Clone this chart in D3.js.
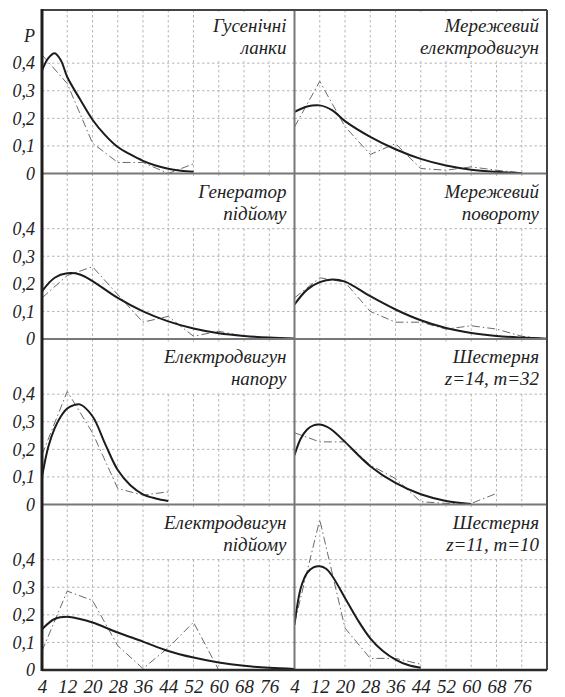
<!DOCTYPE html>
<html>
<head>
<meta charset="utf-8">
<script src="https://cdn.jsdelivr.net/npm/d3@7"></script>
<style>
  html, body { margin: 0; padding: 0; background: #fff; }
  svg { display: block; }
</style>
</head>
<body>
<div id="chart"></div>
<script>
// x ticks, shared by both columns
const xTicks = [4, 12, 20, 28, 36, 44, 52, 60, 68, 76];
const yTicks = [0, 0.1, 0.2, 0.3, 0.4];
const yTickLabels = ['0', '0,1', '0,2', '0,3', '0,4'];

// panel titles (two lines each), row by row, left then right
const titles = [
  ['Гусенічні', 'ланки'],
  ['Мережевий', 'електродвигун'],
  ['Генератор', 'підйому'],
  ['Мережевий', 'повороту'],
  ['Електродвигун', 'напору'],
  ['Шестерня', 'z=14, m=32'],
  ['Електродвигун', 'підйому'],
  ['Шестерня', 'z=11, m=10']
];

// empirical frequencies (dash-dot), x = 4, 12, 20, ...
const empX = [4, 12, 20, 28, 36, 44, 52, 60, 68, 76, 84];
const empirical = [
  [0.43, 0.326, 0.11, 0.04, 0.04, 0.0, 0.035],
  [0.169, 0.334, 0.17, 0.069, 0.108, 0.018, 0.012, 0.024, 0.012, 0.002],
  [0.149, 0.23, 0.262, 0.161, 0.061, 0.082, 0.01, 0.028, 0.01, 0.003, 0.0],
  [0.149, 0.222, 0.206, 0.1, 0.061, 0.061, 0.036, 0.048, 0.036, 0.01, 0.0],
  [0.18, 0.41, 0.26, 0.058, 0.034, 0.046],
  [0.26, 0.227, 0.227, 0.143, 0.094, 0.01, 0.004, 0.004, 0.04],
  [0.069, 0.286, 0.252, 0.088, 0.005, 0.081, 0.173, 0.0],
  [0.17, 0.545, 0.152, 0.042, 0.042, 0.021]
];

// fitted density curves (solid)
const fitX = [
  [4, 6, 8, 10, 12, 16, 20, 24, 28, 32, 36, 40, 44, 48, 52],
  [4, 8, 12, 16, 20, 28, 36, 44, 52, 60, 68, 76],
  [4, 8, 12, 16, 20, 28, 36, 44, 52, 60, 68, 76, 84],
  [4, 8, 12, 16, 20, 28, 36, 44, 52, 60, 68, 76, 84],
  [4, 6, 8, 10, 12, 14, 16, 20, 24, 28, 32, 36, 40, 44],
  [4, 6, 8, 10, 12, 14, 16, 20, 28, 36, 44, 52, 60],
  [4, 8, 12, 16, 20, 28, 36, 44, 52, 60, 68, 76, 84],
  [4, 6, 8, 10, 12, 14, 16, 20, 24, 28, 32, 36, 40, 44]
];
const fitted = [
  [0.373, 0.418, 0.436, 0.41, 0.35, 0.27, 0.195, 0.139, 0.096, 0.069, 0.046, 0.029, 0.017, 0.01, 0.006],
  [0.223, 0.243, 0.247, 0.229, 0.19, 0.133, 0.088, 0.053, 0.029, 0.014, 0.006, 0.001],
  [0.173, 0.222, 0.238, 0.234, 0.21, 0.149, 0.1, 0.064, 0.038, 0.021, 0.011, 0.005, 0.002],
  [0.125, 0.179, 0.206, 0.216, 0.208, 0.155, 0.107, 0.068, 0.04, 0.022, 0.011, 0.005, 0.001],
  [0.1, 0.209, 0.276, 0.32, 0.348, 0.36, 0.363, 0.32, 0.22, 0.125, 0.07, 0.037, 0.022, 0.013],
  [0.179, 0.239, 0.272, 0.287, 0.29, 0.283, 0.269, 0.227, 0.139, 0.078, 0.037, 0.013, 0.002],
  [0.148, 0.185, 0.193, 0.185, 0.172, 0.136, 0.103, 0.069, 0.045, 0.027, 0.015, 0.008, 0.004],
  [0.164, 0.297, 0.352, 0.372, 0.376, 0.367, 0.34, 0.261, 0.182, 0.115, 0.069, 0.038, 0.018, 0.008]
];

const width = 565, height = 697;
const plotLeft = 42, plotRight = 547, plotTop = 10, plotBottom = 670;
const mid = (plotLeft + plotRight) / 2;
const FONT = 'Liberation Serif';

const svg = d3.select('#chart').append('svg')
  .attr('width', width)
  .attr('height', height);

// column and row placement
const colScales = [
  d3.scaleLinear().domain([4, 84]).range([plotLeft, mid]),
  d3.scaleLinear().domain([4, 84]).range([mid, plotRight])
];
const rowEdge = d3.scaleLinear().domain([0, 4]).range([8, plotBottom]);

const grid = svg.append('g');
const marks = svg.append('g');
const labels = svg.append('g');

function italic(sel, size) {
  return sel.attr('font-family', FONT)
    .attr('font-style', 'italic')
    .attr('font-size', size)
    .attr('fill', '#222');
}

titles.forEach((t, i) => {
  const row = Math.floor(i / 2), col = i % 2;
  const x = colScales[col];
  const y = d3.scaleLinear().domain([0, 0.6]).range([rowEdge(row + 1), rowEdge(row)]);
  const panelTop = Math.max(plotTop, y(0.6));
  const x0 = x.range()[0], x1 = x.range()[1];

  const clipId = `clip-${i}`;
  svg.append('clipPath').attr('id', clipId)
    .append('rect')
    .attr('x', x0).attr('y', panelTop)
    .attr('width', x1 - x0).attr('height', y(0) - panelTop);

  const g = grid.append('g').attr('clip-path', `url(#${clipId})`);

  // dashed grid
  g.selectAll('.hg').data([0.1, 0.2, 0.3, 0.4]).enter().append('line')
    .attr('x1', x0).attr('x2', x1)
    .attr('y1', d => y(d)).attr('y2', d => y(d))
    .attr('stroke', '#b5b5b5').attr('stroke-width', 1)
    .attr('stroke-dasharray', '2.5,2.5');

  g.selectAll('.vg').data(xTicks.slice(1)).enter().append('line')
    .attr('x1', d => x(d)).attr('x2', d => x(d))
    .attr('y1', panelTop).attr('y2', y(0))
    .attr('stroke', '#b5b5b5').attr('stroke-width', 1)
    .attr('stroke-dasharray', '2.5,2.5');

  // title, with a white box covering the grid behind it
  const tg = labels.append('g');
  const tx = x1 - 8;
  const box = tg.append('rect').attr('fill', '#fff');
  const tt = italic(tg.append('text'), 19).attr('text-anchor', 'end');
  tt.append('tspan').attr('x', tx).attr('y', y(0.6) + 24).text(t[0]);
  tt.append('tspan').attr('x', tx).attr('y', y(0.6) + 46).text(t[1]);
  const bb = tt.node().getBBox();
  const by = Math.max(panelTop + 2, bb.y - 4);
  box.attr('x', bb.x - 5).attr('y', by)
    .attr('width', x1 - (bb.x - 5) - 1)
    .attr('height', bb.y + bb.height + 3 - by);

  const mg = marks.append('g').attr('clip-path', `url(#${clipId})`);

  // empirical polygon
  const emp = empirical[i].map((v, k) => [empX[k], v]);
  mg.append('path')
    .datum(emp)
    .attr('fill', 'none')
    .attr('stroke', '#6a6a6a')
    .attr('stroke-width', 1)
    .attr('stroke-dasharray', '8,3,1.5,3')
    .attr('d', d3.line().x(d => x(d[0])).y(d => y(d[1])));

  // fitted curve
  const fit = fitted[i].map((v, k) => [fitX[i][k], v]);
  mg.append('path')
    .datum(fit)
    .attr('fill', 'none')
    .attr('stroke', '#1c1c1c')
    .attr('stroke-width', 2)
    .attr('d', d3.line().curve(d3.curveCatmullRom.alpha(0.5)).x(d => x(d[0])).y(d => y(d[1])));

  // y labels on the left column
  if (col === 0) {
    const ax = svg.append('g')
      .attr('transform', `translate(${plotLeft},0)`)
      .call(d3.axisLeft(y).tickValues(yTicks).tickSize(0).tickPadding(7)
        .tickFormat((d, k) => yTickLabels[k]));
    ax.attr('font-family', FONT);
    ax.select('.domain').remove();
    italic(ax.selectAll('text'), 18);
    if (row === 0) {
      italic(svg.append('text'), 18)
        .attr('x', plotLeft - 7).attr('y', y(0.5))
        .attr('dy', '0.35em')
        .attr('text-anchor', 'end')
        .text('P');
    }
  }

  // x labels on the bottom row
  if (row === 3) {
    const ax = svg.append('g')
      .attr('transform', `translate(0,${plotBottom})`)
      .call(d3.axisBottom(x).tickValues(xTicks).tickSize(0).tickPadding(10)
        .tickFormat(d3.format('d')));
    ax.attr('font-family', FONT);
    ax.select('.domain').remove();
    italic(ax.selectAll('text'), 19);
  }
});

// frame and panel dividers
const frame = svg.append('g').attr('fill', 'none');
[1, 2, 3].forEach(r => {
  frame.append('line')
    .attr('x1', plotLeft).attr('x2', plotRight)
    .attr('y1', rowEdge(r)).attr('y2', rowEdge(r))
    .attr('stroke', '#777').attr('stroke-width', 2);
});
frame.append('line')
  .attr('x1', mid).attr('x2', mid).attr('y1', plotTop).attr('y2', plotBottom)
  .attr('stroke', '#777').attr('stroke-width', 2);
frame.append('line')
  .attr('x1', plotLeft).attr('x2', plotRight).attr('y1', plotTop).attr('y2', plotTop)
  .attr('stroke', '#444').attr('stroke-width', 2);
frame.append('line')
  .attr('x1', plotRight).attr('x2', plotRight).attr('y1', plotTop).attr('y2', plotBottom)
  .attr('stroke', '#444').attr('stroke-width', 2);
frame.append('line')
  .attr('x1', plotLeft).attr('x2', plotRight).attr('y1', plotBottom).attr('y2', plotBottom)
  .attr('stroke', '#2a2a2a').attr('stroke-width', 2.5);
frame.append('line')
  .attr('x1', plotLeft).attr('x2', plotLeft).attr('y1', plotTop - 1).attr('y2', plotBottom + 1)
  .attr('stroke', '#1e1e1e').attr('stroke-width', 3);
</script>
</body>
</html>
